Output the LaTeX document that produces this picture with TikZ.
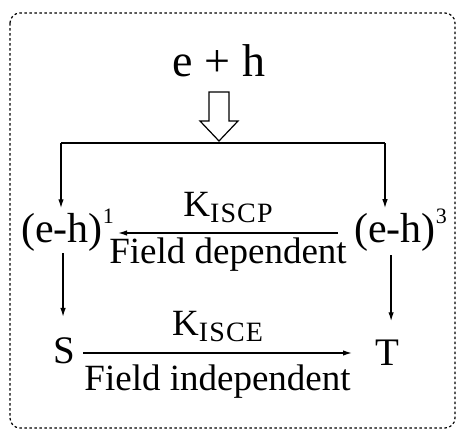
\documentclass[tikz,border=0pt]{standalone}
\usepackage{fontspec}
\setmainfont{Liberation Serif}
\usepackage{tikz}
\usetikzlibrary{arrows.meta}

\newcommand{\ratesub}[1]{\raisebox{-6pt}{\fontsize{28}{28}\selectfont\addfontfeature{LetterSpace=4}#1}}
\newcommand{\supnum}[1]{\raisebox{19pt}{\fontsize{22}{22}\selectfont #1}}

\begin{document}
\begin{tikzpicture}[
  x=1pt,y=-1pt,
  source/.style={inner sep=0pt,anchor=base,font=\fontsize{46}{50}\selectfont},
  pair/.style={inner sep=0pt,anchor=base west,font=\fontsize{42}{46}\selectfont},
  spin/.style={inner sep=0pt,anchor=base west,font=\fontsize{39}{42}\selectfont},
  ratek/.style={inner sep=0pt,font=\fontsize{37}{40}\selectfont},
  cond/.style={inner sep=0pt,font=\fontsize{37}{40}\selectfont},
  flow/.style={-{Latex[length=9pt,width=5.5pt]},line width=1.4pt},
  hollow/.style={draw,line width=1.2pt,fill=white},
  frame/.style={rounded corners=10pt,line width=1.2pt,dash pattern=on 2.5pt off 2.5pt}
]
\useasboundingbox (0,0) rectangle (457,431);
\draw[frame] (10,13) rectangle (455,428);

\node[source] (eh) at (219,76) {e + h};
\coordinate (split) at (219,143);
\coordinate (barL) at (61,143);
\coordinate (barR) at (385,143);

\node[pair] (pairA) at (21,242) {(e-h)\supnum{1}};
\node[pair] (pairB) at (354,242) {(e-h)\supnum{3}};
\node[spin] (S) at (53,363) {S};
\node[spin] (T) at (375,365) {T};

% incoming pair and split
\draw[hollow,shift={(split)}] (-10,-51) -- (10,-51) -- (10,-22) -- (19,-22)
  -- (0,-2) -- (-19,-22) -- (-10,-22) -- cycle;
\draw[line width=1.4pt] (barL) -- (barR);
\draw[flow] (barL) -- (barL |- pairA.north);
\draw[flow] (barR) -- (barR |- pairB.north);

% pair states to S and T
\draw[flow,shorten <=2pt,shorten >=20pt] ([xshift=-1pt]S.north |- pairA.south) -- ([xshift=-1pt]S.north);
\draw[flow,shorten <=4pt,shorten >=18pt] ([xshift=4pt]T.north |- pairB.south) -- ([xshift=4pt]T.north);

\draw[flow] ([xshift=-16pt,yshift=9pt]pairB.base west)
  -- node[ratek,above=10pt]{K\ratesub{ISCP}}
     node[cond,below=4pt]{Field dependent}
  ([xshift=4pt,yshift=9pt]pairA.base east);
\draw[flow] ([xshift=8pt,yshift=10pt]S.base east)
  -- node[ratek,above=11pt]{K\ratesub{ISCE}}
     node[cond,below=11pt]{Field independent}
  ([xshift=-23pt,yshift=12pt]T.base west);
\end{tikzpicture}
\end{document}
